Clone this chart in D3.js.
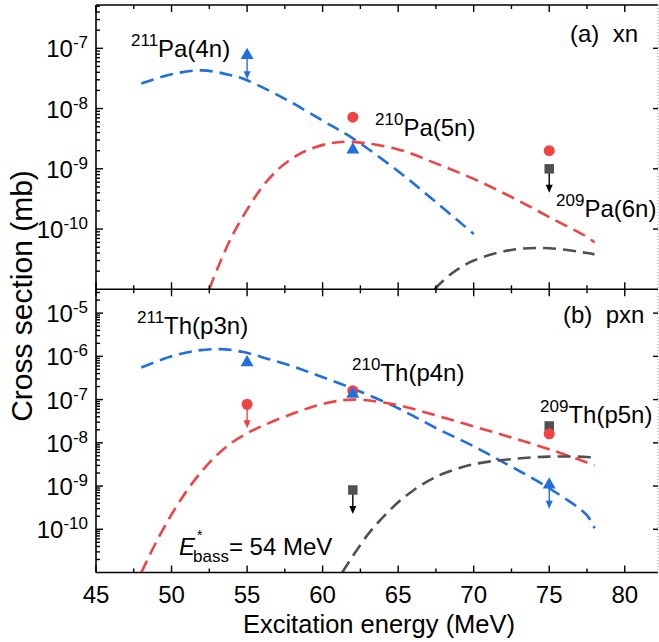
<!DOCTYPE html>
<html>
<head>
<meta charset="utf-8">
<script src="https://cdn.jsdelivr.net/npm/d3@7"></script>
<style>
  body { margin: 0; background: #fff; }
  svg { display: block; }
  text { font-family: "Liberation Sans", Arial, Helvetica, sans-serif; fill: #000; }
</style>
</head>
<body>
<svg id="chart" width="659" height="642"></svg>
<script>
// ---- axis ticks ----
const xTicks = [45, 50, 55, 60, 65, 70, 75, 80];
const topDecades = [-10, -9, -8, -7];
const bottomDecades = [-10, -9, -8, -7, -6, -5];

// ---- calculated curves (energy in MeV, cross section in mb) ----
// panel (a): xn channels
const pa211CurveE = [48, 50, 52, 54, 55, 57.5, 60, 62, 65, 67.5, 70];
const pa211CurveS = [2.6e-8, 3.7e-8, 4.3e-8, 3.55e-8, 2.95e-8, 1.45e-8, 6.3e-9, 3.2e-9, 9.1e-10, 2.8e-10, 8.3e-11];
const pa210CurveE = [52.5, 53, 54, 55, 56, 57, 58, 59, 60.5, 62, 65, 67.5, 70, 72.5, 75, 77.5, 78];
const pa210CurveS = [1e-11, 2.1e-11, 7.6e-11, 2.1e-10, 5.0e-10, 9.5e-10, 1.5e-9, 2.05e-9, 2.65e-9, 2.8e-9, 2.1e-9, 1.23e-9, 6.8e-10, 3.4e-10, 1.58e-10, 7.4e-11, 6.0e-11];
const pa209CurveE = [67.4, 68.5, 70, 72.5, 75, 77.5, 78];
const pa209CurveS = [1e-11, 1.8e-11, 3.0e-11, 4.5e-11, 4.8e-11, 4.0e-11, 3.8e-11];

// panel (b): pxn channels
const th211CurveE = [48, 50, 51.7, 53.2, 54.75, 56.4, 58.1, 59.7, 62, 65, 67.5, 70, 72.5, 75, 77.5, 78];
const th211CurveS = [5.5e-7, 1.0e-6, 1.36e-6, 1.47e-6, 1.26e-6, 8.7e-7, 5.75e-7, 3.6e-7, 1.8e-7, 6.3e-8, 2.2e-8, 8.3e-9, 2.8e-9, 8.9e-10, 2.1e-10, 1.05e-10];
const th210CurveE = [48, 49, 50, 51, 52, 53, 54, 55, 56, 58, 60, 62, 65, 67.5, 70, 72.5, 75, 77.5, 78];
const th210CurveS = [1e-11, 5.2e-11, 2.2e-10, 7.6e-10, 2.2e-9, 5.2e-9, 1.02e-8, 1.66e-8, 2.45e-8, 4.7e-8, 7.9e-8, 1.0e-7, 7.4e-8, 4.3e-8, 2.4e-8, 1.32e-8, 7.1e-9, 3.5e-9, 3.0e-9];
const th209CurveE = [61.3, 62, 63, 64, 65, 66, 67, 68, 70, 72.5, 75, 77.5, 78];
const th209CurveS = [1e-11, 2.4e-11, 7.6e-11, 1.9e-10, 4.2e-10, 7.9e-10, 1.32e-9, 1.95e-9, 3.2e-9, 4.2e-9, 4.8e-9, 4.7e-9, 4.5e-9];

// ---- measured points (upper limits flagged) ----
const pa211E = [55, 62];        const pa211S = [7.7e-8, 2.07e-9];   const pa211Lim = [true, false];
const pa210E = [62, 75];        const pa210S = [7.2e-9, 2.0e-9];    const pa210Lim = [false, false];
const pa209E = [75];            const pa209S = [1.0e-9];            const pa209Lim = [true];
const th211E = [55, 62, 75];    const th211S = [7.2e-7, 1.35e-7, 1.07e-9]; const th211Lim = [false, false, true];
const th210E = [55, 62, 75];    const th210S = [7.8e-8, 1.6e-7, 1.62e-8];  const th210Lim = [true, false, false];
const th209E = [62, 75];        const th209S = [8.1e-10, 2.45e-8];         const th209Lim = [true, false];

// ---- styling ----
const BLUE = "#1f6fe0", RED = "#f04444", GRAY = "#505050";
const FONT = 24, SUP = 17;

const svg = d3.select("#chart");
const pLeft = 96, pRight = 658, pTop = 5, pMid = 289.3, pBottom = 572.5;

const x = d3.scaleLinear().domain([45, 82.2]).range([pLeft, pRight]);
const yTop = d3.scaleLog().domain([1e-11, Math.pow(10, -6.281)]).range([pMid, pTop]);
const yBot = d3.scaleLog().domain([1e-11, Math.pow(10, -4.449)]).range([pBottom, pMid]);

const line = (ys) => d3.line().x(d => x(d[0])).y(d => ys(d[1])).curve(d3.curveCatmullRom.alpha(0.5));

function clip(id, y0, y1) {
  svg.append("clipPath").attr("id", id)
    .append("rect").attr("x", pLeft).attr("y", y0).attr("width", pRight - pLeft).attr("height", y1 - y0);
}
clip("clipTop", pTop, pMid);
clip("clipBot", pMid, pBottom);

function drawCurve(ys, clipId, E, S, color) {
  svg.append("path")
    .datum(E.map((e, i) => [e, S[i]]))
    .attr("clip-path", `url(#${clipId})`)
    .attr("d", line(ys))
    .attr("fill", "none")
    .attr("stroke", color)
    .attr("stroke-width", 2.6)
    .attr("stroke-dasharray", "13,7");
}

drawCurve(yTop, "clipTop", pa211CurveE, pa211CurveS, BLUE);
drawCurve(yTop, "clipTop", pa210CurveE, pa210CurveS, RED);
drawCurve(yTop, "clipTop", pa209CurveE, pa209CurveS, GRAY);
drawCurve(yBot, "clipBot", th211CurveE, th211CurveS, BLUE);
drawCurve(yBot, "clipBot", th210CurveE, th210CurveS, RED);
drawCurve(yBot, "clipBot", th209CurveE, th209CurveS, GRAY);

// ---- points ----
const symTri = d3.symbol().type(d3.symbolTriangle).size(72)();
const symCirc = d3.symbol().type(d3.symbolCircle).size(95)();
const symSq = d3.symbol().type(d3.symbolSquare).size(90)();

function drawPoints(ys, E, S, Lim, sym, color, arrowColor) {
  E.forEach((e, i) => {
    const px = x(e), py = ys(S[i]);
    if (Lim[i]) {
      const len = 24;
      svg.append("line").attr("x1", px).attr("x2", px).attr("y1", py).attr("y2", py + len - 6)
        .attr("stroke", arrowColor).attr("stroke-width", 1.4);
      svg.append("path")
        .attr("d", `M${px - 3.5},${py + len - 8} L${px + 3.5},${py + len - 8} L${px},${py + len} Z`)
        .attr("fill", arrowColor);
    }
    svg.append("path").attr("d", sym).attr("transform", `translate(${px},${py})`).attr("fill", color);
  });
}

drawPoints(yTop, pa211E, pa211S, pa211Lim, symTri, BLUE, BLUE);
drawPoints(yTop, pa209E, pa209S, pa209Lim, symSq, GRAY, "#000");
drawPoints(yTop, pa210E, pa210S, pa210Lim, symCirc, RED, RED);
drawPoints(yBot, th209E, th209S, th209Lim, symSq, GRAY, "#000");
drawPoints(yBot, th210E, th210S, th210Lim, symCirc, RED, RED);
drawPoints(yBot, th211E, th211S, th211Lim, symTri, BLUE, BLUE);

// ---- frame and ticks ----
const frame = svg.append("g").attr("stroke", "#000").attr("stroke-width", 1.6).attr("fill", "none");
frame.append("line").attr("x1", pLeft).attr("x2", pRight).attr("y1", pTop).attr("y2", pTop);
frame.append("line").attr("x1", pLeft).attr("x2", pRight).attr("y1", pMid).attr("y2", pMid);
frame.append("line").attr("x1", pLeft).attr("x2", pRight).attr("y1", pBottom).attr("y2", pBottom);
frame.append("line").attr("x1", pLeft).attr("x2", pLeft).attr("y1", pTop).attr("y2", pBottom);
svg.append("line").attr("x1", pRight).attr("x2", pRight).attr("y1", pTop).attr("y2", pBottom)
  .attr("stroke", "#999").attr("stroke-width", 1).attr("stroke-dasharray", "1,2");

const tk = svg.append("g").attr("stroke", "#000").attr("stroke-width", 1.4);
const xMinor = xTicks.map(v => v + 2.5).filter(v => v < 82.2);
function xTickMarks(y0, dir) {
  xTicks.forEach(v => tk.append("line").attr("x1", x(v)).attr("x2", x(v)).attr("y1", y0).attr("y2", y0 + dir * 7));
  xMinor.forEach(v => tk.append("line").attr("x1", x(v)).attr("x2", x(v)).attr("y1", y0).attr("y2", y0 + dir * 4));
}
xTickMarks(pTop, 1);
xTickMarks(pMid, -1);
xTickMarks(pMid, 1);
xTickMarks(pBottom, -1);

function yTickMarks(ys, decades) {
  const [d0, d1] = ys.domain();
  decades.forEach(d => {
    const v = Math.pow(10, d);
    tk.append("line").attr("x1", pLeft).attr("x2", pLeft + 7).attr("y1", ys(v)).attr("y2", ys(v));
    tk.append("line").attr("x1", pRight).attr("x2", pRight - 5).attr("y1", ys(v)).attr("y2", ys(v));
  });
  for (let d = -11; d <= -4; d++) {
    for (let k = 2; k <= 9; k++) {
      const v = k * Math.pow(10, d);
      if (v > d0 && v < d1) {
        tk.append("line").attr("x1", pLeft).attr("x2", pLeft + 4).attr("y1", ys(v)).attr("y2", ys(v));
      }
    }
  }
  // tick labels: 10^n
  decades.forEach(d => {
    const t = svg.append("text").attr("x", 88).attr("y", ys(Math.pow(10, d)) + 9)
      .attr("text-anchor", "end").attr("font-size", FONT);
    t.append("tspan").text("10");
    t.append("tspan").attr("font-size", SUP).attr("dy", -9).text("-" + Math.abs(d));
  });
}
yTickMarks(yTop, topDecades);
yTickMarks(yBot, bottomDecades);

xTicks.forEach(v => {
  svg.append("text").attr("x", x(v)).attr("y", 603).attr("text-anchor", "middle")
    .attr("font-size", FONT).text(v);
});

svg.append("text").attr("x", 379).attr("y", 633).attr("text-anchor", "middle")
  .attr("font-size", 25.5).text("Excitation energy (MeV)");
svg.append("text").attr("transform", "translate(32,296) rotate(-90)")
  .attr("text-anchor", "middle").attr("font-size", 30).text("Cross section (mb)");

// ---- annotations ----
function isotope(xp, yp, mass, rest) {
  const t = svg.append("text").attr("x", xp).attr("y", yp).attr("font-size", FONT);
  t.append("tspan").attr("font-size", SUP).attr("dy", -11).text(mass);
  t.append("tspan").attr("dy", 11).text(rest);
}
isotope(131, 57, "211", "Pa(4n)");
isotope(375, 136, "210", "Pa(5n)");
isotope(556, 217, "209", "Pa(6n)");
isotope(137, 334, "211", "Th(p3n)");
isotope(352, 381, "210", "Th(p4n)");
isotope(540, 423, "209", "Th(p5n)");

svg.append("text").attr("x", 570).attr("y", 42).attr("font-size", FONT)
  .style("white-space", "pre").text("(a)  xn");
svg.append("text").attr("x", 563).attr("y", 323).attr("font-size", FONT)
  .style("white-space", "pre").text("(b)  pxn");

const eb = svg.append("text").attr("x", 179).attr("y", 555).attr("font-size", FONT);
eb.append("tspan").attr("font-style", "italic").text("E");
eb.append("tspan").attr("font-size", SUP).attr("dx", -2).attr("dy", 7).text("bass");
eb.append("tspan").attr("dy", -7).text("= 54 MeV");
svg.append("text").attr("x", 197).attr("y", 540).attr("font-size", 14).text("*");
</script>
</body>
</html>
